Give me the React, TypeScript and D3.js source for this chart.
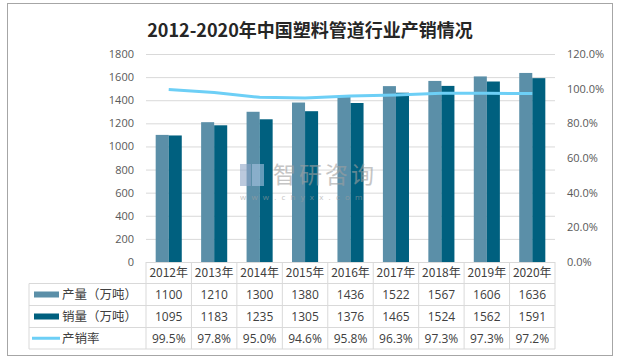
import React from "react";
import * as d3 from "d3";

const years = ["2012年", "2013年", "2014年", "2015年", "2016年", "2017年", "2018年", "2019年", "2020年"];
const production = [1100, 1210, 1300, 1380, 1436, 1522, 1567, 1606, 1636];
const sales = [1095, 1183, 1235, 1305, 1376, 1465, 1524, 1562, 1591];
const rate = [99.5, 97.8, 95.0, 94.6, 95.8, 96.3, 97.3, 97.3, 97.2];
const leftTicks = [0, 200, 400, 600, 800, 1000, 1200, 1400, 1600, 1800];
const rightTicks = [0, 20, 40, 60, 80, 100, 120];

const C_PROD = "#5b8fa8";
const C_SALES = "#00607f";
const C_LINE = "#6dcff6";
const GRID = "#d9d9d9";
const NUM_FONT = "'Open Sans', 'Noto Sans', sans-serif";
const CJK_FONT = "'Noto Sans CJK SC', sans-serif";

export default function App() {
  const width = 621;
  const height = 363;
  const left = 146;
  const right = 555;
  const top = 54;
  const bottom = 262;

  const x = d3.scaleBand<string>().domain(years).range([left, right]).padding(0);
  const y = d3.scaleLinear().domain([0, 1800]).range([bottom, top]);
  const y2 = d3.scaleLinear().domain([0, 120]).range([bottom, top]);
  const bw = x.bandwidth() * 0.287;

  const line = d3
    .line<number>()
    .x((_, i) => (x(years[i]) as number) + x.bandwidth() / 2)
    .y((d) => y2(d));

  const rowEdges = [262, 283.5, 305.5, 327.5, 349];
  const tableLeft = 29;
  const rowMid = (r: number) => (rowEdges[r] + rowEdges[r + 1]) / 2;

  const rows = [
    { label: "产量（万吨）", values: production.map(String), kind: "bar", color: C_PROD },
    { label: "销量（万吨）", values: sales.map(String), kind: "bar", color: C_SALES },
    { label: "产销率", values: rate.map((d) => d.toFixed(1) + "%"), kind: "line", color: C_LINE },
  ];

  return (
    <svg width={width} height={height} style={{ position: "absolute", left: 0, top: 0 }}>
      <rect x={0} y={0} width={width} height={height} fill="#fff" />
      <rect x={7.5} y={3.5} width={605} height={352} fill="#fff" stroke="#a6a6a6" strokeWidth={1} />

      <text x={310} y={37} textAnchor="middle" fontFamily={CJK_FONT} fontWeight="bold" fontSize={18} fill="#262626">
        2012-2020年中国塑料管道行业产销情况
      </text>

      {leftTicks.map((t) => (
        <g key={"l" + t}>
          {t > 0 && <line x1={left} x2={right} y1={y(t) + 0.5} y2={y(t) + 0.5} stroke={GRID} />}
          <text x={134} y={y(t) + 4} textAnchor="end" fontFamily={NUM_FONT} fontSize={11} fill="#595959">
            {t}
          </text>
        </g>
      ))}
      {rightTicks.map((t) => (
        <text key={"r" + t} x={567} y={y2(t) + 4} fontFamily={NUM_FONT} fontSize={11} fill="#595959">
          {t.toFixed(1) + "%"}
        </text>
      ))}

      {years.map((yr, i) => {
        const cx = (x(yr) as number) + x.bandwidth() / 2;
        return (
          <g key={yr}>
            <rect x={cx - bw} y={y(production[i])} width={bw} height={bottom - y(production[i])} fill={C_PROD} />
            <rect x={cx} y={y(sales[i])} width={bw} height={bottom - y(sales[i])} fill={C_SALES} />
          </g>
        );
      })}

      <path d={line(rate) as string} fill="none" stroke={C_LINE} strokeWidth={3} strokeLinejoin="round" />

      {/* watermark, drawn over the bars */}
      <g opacity={0.6}>
        <rect x={240} y={164} width={11} height={22} fill="#8ea6c8" />
        <rect x={252} y={164} width={12} height={22} fill="#a9c4e2" />
        <text x={273} y={183} fontFamily={CJK_FONT} fontSize={23} fill="#a0a0a0" letterSpacing={3}>
          智研咨询
        </text>
        <text x={240} y={200} fontFamily={NUM_FONT} fontSize={8} fill="#a0a0a0" letterSpacing={5.2}>
          www.chyxx.com
        </text>
      </g>

      {/* data table */}
      <g stroke={GRID} strokeWidth={1} fill="none">
        <line x1={left} x2={right} y1={rowEdges[0] + 0.5} y2={rowEdges[0] + 0.5} />
        {rowEdges.slice(1).map((e) => (
          <line key={e} x1={tableLeft} x2={right} y1={e} y2={e} />
        ))}
        <line x1={tableLeft} x2={tableLeft} y1={rowEdges[1]} y2={rowEdges[4]} />
        {years.map((yr) => (
          <line key={yr} x1={x(yr) as number} x2={x(yr) as number} y1={rowEdges[0]} y2={rowEdges[4]} />
        ))}
        <line x1={right} x2={right} y1={rowEdges[0]} y2={rowEdges[4]} />
      </g>

      {years.map((yr) => (
        <text
          key={"h" + yr}
          x={(x(yr) as number) + x.bandwidth() / 2}
          y={rowMid(0) + 4.5}
          textAnchor="middle"
          fontFamily={CJK_FONT}
          fontSize={12}
          fill="#404040"
        >
          {yr}
        </text>
      ))}

      {rows.map((r, ri) => {
        const my = rowMid(ri + 1);
        return (
          <g key={r.label}>
            {r.kind === "bar" ? (
              <rect x={34} y={my - 3} width={25} height={6} fill={r.color} />
            ) : (
              <line x1={32} x2={60} y1={my} y2={my} stroke={r.color} strokeWidth={3} />
            )}
            <text x={62} y={my + 4.5} fontFamily={CJK_FONT} fontSize={12.5} fill="#404040">
              {r.label}
            </text>
            {r.values.map((v, i) => (
              <text
                key={i}
                x={(x(years[i]) as number) + x.bandwidth() / 2}
                y={my + 4.5}
                textAnchor="middle"
                fontFamily={NUM_FONT}
                fontSize={12}
                fill="#404040"
              >
                {v}
              </text>
            ))}
          </g>
        );
      })}
    </svg>
  );
}
